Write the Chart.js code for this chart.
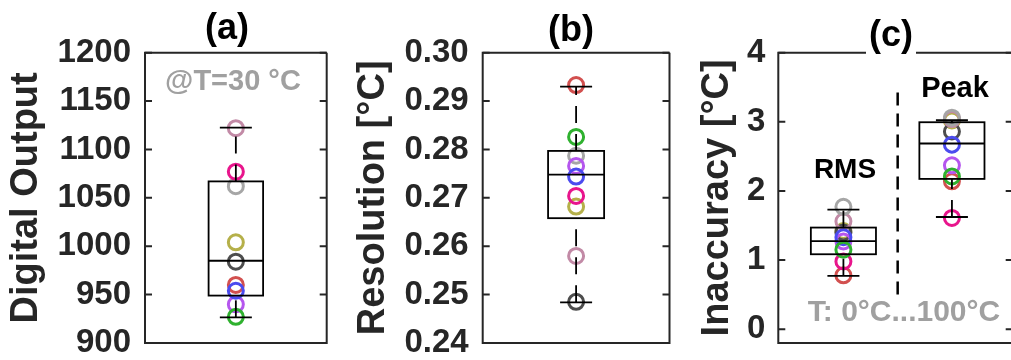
<!DOCTYPE html>
<html>
<head>
<meta charset="utf-8">
<script src="https://cdn.jsdelivr.net/npm/chart.js@4.4.1/dist/chart.umd.min.js"></script>
<style>
  html, body { margin: 0; padding: 0; background: #fff; overflow: hidden; width: 1011px; height: 360px; }
  canvas { position: absolute; top: 0; }
</style>
</head>
<body>
<canvas id="ca" width="340" height="360" style="left:0px"></canvas>
<canvas id="cb" width="340" height="360" style="left:340px"></canvas>
<canvas id="cc" width="345" height="360" style="left:680px"></canvas>
<script>
// ---------- data ----------
const chipNames  = ['olive', 'dark', 'mauve', 'gray', 'red', 'magenta', 'purple', 'blue', 'green'];
const chipColors = ['#b5b04a', '#4d4d4d', '#c28aa6', '#a6a6a6', '#d2504f', '#e8158c', '#b556ee', '#4b4bef', '#2fb12f'];

// (a) digital output @ 30 °C, per chip
const valuesA = [1004, 984, 1122, 1062, 960, 1077, 940, 954, 927];
// (b) resolution [°C], per chip
const valuesB = [0.2682, 0.2485, 0.2580, 0.2787, 0.2933, 0.2704, 0.2766, 0.2744, 0.2826];
// (c) inaccuracy [°C], per chip
const valuesRms  = [1.42, 1.40, 1.56, 1.77, 0.78, 0.98, 1.27, 1.33, 1.15];
const valuesPeak = [3.02, 2.86, 3.04, 3.06, 2.14, 1.61, 2.37, 2.67, 2.21];

// box statistics: [lower whisker, Q1, median, Q3, upper whisker]
const boxA    = [926.5, 949, 985, 1067, 1122.5];
const boxB    = [0.2484, 0.2658, 0.2748, 0.2797, 0.2930];
const boxRms  = [0.772, 1.084, 1.275, 1.47, 1.729];
const boxPeak = [1.623, 2.174, 2.686, 2.994, 3.023];

const categoriesC = ['RMS', 'Peak'];

// tick values
const ticksA = [900, 950, 1000, 1050, 1100, 1150, 1200];
const ticksB = [0.24, 0.25, 0.26, 0.27, 0.28, 0.29, 0.30];
const ticksC = [0, 1, 2, 3, 4];

// ---------- drawing helpers ----------
const FONT = "'Liberation Sans', Arial, Helvetica, sans-serif";
const AXIS = '#262626';

const panelPlugin = {
  id: 'panel',
  afterDatasetsDraw(chart, args, opts) {
    const {ctx, scales: {x, y}} = chart;
    ctx.save();
    ctx.strokeStyle = '#000';
    ctx.lineWidth = 1.8;
    (opts.boxes || []).forEach(b => {
      const cx = x.getPixelForValue(b.pos);
      const hw = (x.getPixelForValue(b.pos + b.width / 2) - x.getPixelForValue(b.pos - b.width / 2)) / 2;
      const [lo, q1, med, q3, hi] = b.stats.map(v => y.getPixelForValue(v));
      ctx.setLineDash([17, 11]);
      ctx.beginPath(); ctx.moveTo(cx, lo); ctx.lineTo(cx, q1); ctx.stroke();
      ctx.beginPath(); ctx.moveTo(cx, q3); ctx.lineTo(cx, hi); ctx.stroke();
      ctx.setLineDash([]);
      ctx.strokeRect(cx - hw, q3, 2 * hw, q1 - q3);
      ctx.beginPath(); ctx.moveTo(cx - hw, med); ctx.lineTo(cx + hw, med); ctx.stroke();
      const cw = opts.capWidth / 2;
      ctx.beginPath();
      ctx.moveTo(cx - cw, lo); ctx.lineTo(cx + cw, lo);
      ctx.moveTo(cx - cw, hi); ctx.lineTo(cx + cw, hi);
      ctx.stroke();
    });
    (opts.dividers || []).forEach(d => {
      const px = x.getPixelForValue(d.x);
      ctx.setLineDash([13, 8]);
      ctx.lineWidth = 2.5;
      ctx.strokeStyle = '#000';
      ctx.beginPath();
      ctx.moveTo(px, y.getPixelForValue(d.from));
      ctx.lineTo(px, y.getPixelForValue(d.to));
      ctx.stroke();
      ctx.setLineDash([]);
    });
    ctx.restore();
  },
  afterDraw(chart, args, opts) {
    const {ctx, chartArea: ca, scales: {y}} = chart;
    ctx.save();
    // frame
    ctx.strokeStyle = AXIS;
    ctx.lineWidth = 2;
    ctx.beginPath();
    ctx.moveTo(ca.right, ca.top); ctx.lineTo(ca.left, ca.top);
    ctx.lineTo(ca.left, ca.bottom); ctx.lineTo(ca.right, ca.bottom);
    if (opts.rightEdge !== false) ctx.lineTo(ca.right, ca.top);
    ctx.stroke();
    // inward ticks
    y.ticks.forEach(t => {
      const py = y.getPixelForValue(t.value);
      ctx.beginPath();
      ctx.moveTo(ca.left, py); ctx.lineTo(ca.left + 7, py);
      ctx.moveTo(ca.right, py); ctx.lineTo(ca.right - 7, py);
      ctx.stroke();
    });
    // texts
    ctx.textAlign = 'center';
    ctx.textBaseline = 'middle';
    (opts.texts || []).forEach(t => {
      ctx.font = `bold ${t.size}px ${FONT}`;
      if (t.bg) {
        const w = ctx.measureText(t.text).width;
        ctx.fillStyle = '#fff';
        ctx.fillRect(t.x - w / 2 - 3, t.y - t.size / 2 - 6, w + 6, t.bgBottom - (t.y - t.size / 2 - 6));
      }
      ctx.fillStyle = t.color;
      ctx.fillText(t.text, t.x, t.y);
    });
    ctx.restore();
  }
};

function chipDatasets(seriesList, positions) {
  return chipNames.map((name, i) => ({
    label: name,
    data: seriesList.map((vals, k) => ({x: positions[k], y: vals[i]})),
    borderColor: chipColors[i],
    backgroundColor: 'rgba(0,0,0,0)',
    pointRadius: 7.5,
    pointHoverRadius: 7.5,
    borderWidth: 3,
    pointBorderWidth: 3,
    showLine: false,
    order: chipNames.length - i
  }));
}

function makeChart(id, cfg) {
  return new Chart(document.getElementById(id), {
    type: 'scatter',
    data: {datasets: chipDatasets(cfg.series, cfg.positions)},
    options: {
      responsive: false,
      animation: false,
      devicePixelRatio: 1,
      events: [],
      layout: {padding: {top: 52.7, bottom: 17, left: 0, right: cfg.padRight}},
      plugins: {
        legend: {display: false},
        tooltip: {enabled: false},
        panel: {boxes: cfg.boxes, capWidth: 32, texts: cfg.texts, dividers: cfg.dividers || [], rightEdge: cfg.rightEdge}
      },
      scales: {
        x: {
          type: 'linear', min: cfg.xRange[0], max: cfg.xRange[1],
          display: false
        },
        y: {
          type: 'linear', min: cfg.yRange[0], max: cfg.yRange[1],
          afterBuildTicks: s => { s.ticks = cfg.ticks.map(v => ({value: v})); },
          afterFit: s => { s.width = cfg.axisWidth; },
          grid: {display: false, drawTicks: true, tickLength: cfg.tickPad},
          border: {display: false},
          ticks: {
            padding: 0,
            color: AXIS,
            font: {family: FONT, size: 33, weight: 'bold', lineHeight: 0.8},
            callback: cfg.fmt
          },
          title: {
            display: true,
            text: cfg.yTitle,
            color: AXIS,
            font: {family: FONT, size: 38, weight: 'bold', lineHeight: 1.2},
            padding: {top: cfg.titlePad, bottom: 0}
          }
        }
      }
    },
    plugins: [panelPlugin]
  });
}

makeChart('ca', {
  series: [valuesA], positions: [1],
  xRange: [0.5, 1.5], yRange: [900, 1200], ticks: ticksA,
  axisWidth: 145, padRight: 13.3, tickPad: 14, titlePad: 4,
  yTitle: 'Digital Output',
  fmt: v => String(v),
  boxes: [{pos: 1, width: 0.30, stats: boxA}],
  texts: [
    {text: '(a)', x: 227, y: 29, size: 36, color: '#000'},
    {text: '@T=30 °C', x: 233, y: 82, size: 29, color: '#a0a0a0'}
  ]
});

makeChart('cb', {
  series: [valuesB], positions: [1],
  xRange: [0.5, 1.5], yRange: [0.24, 0.30], ticks: ticksB,
  axisWidth: 142.7, padRight: 6.7, tickPad: 14, titlePad: 10.5,
  yTitle: 'Resolution [°C]',
  fmt: v => v.toFixed(2),
  boxes: [{pos: 1, width: 0.30, stats: boxB}],
  texts: [
    {text: '(b)', x: 231, y: 31, size: 36, color: '#000'}
  ]
});

makeChart('cc', {
  series: [valuesRms, valuesPeak], positions: [1, 2],
  xRange: [0.4, 2.56], yRange: [-0.2, 4], ticks: ticksC,
  axisWidth: 98.3, padRight: 12.3, tickPad: 13, titlePad: 15,
  rightEdge: false,
  yTitle: 'Inaccuracy [°C]',
  fmt: v => String(v),
  boxes: [{pos: 1, width: 0.6, stats: boxRms}, {pos: 2, width: 0.6, stats: boxPeak}],
  dividers: [{x: 1.5, from: 0.5, to: 3.5}],
  texts: [
    {text: '(c)', x: 211, y: 36, size: 36, color: '#000', bg: true, bgBottom: 55},
    {text: categoriesC[0], x: 165, y: 170, size: 28, color: '#000'},
    {text: categoriesC[1], x: 275, y: 88.5, size: 29, color: '#000'},
    {text: 'T: 0°C...100°C', x: 224, y: 313, size: 30, color: '#a0a0a0'}
  ]
});
</script>
</body>
</html>
